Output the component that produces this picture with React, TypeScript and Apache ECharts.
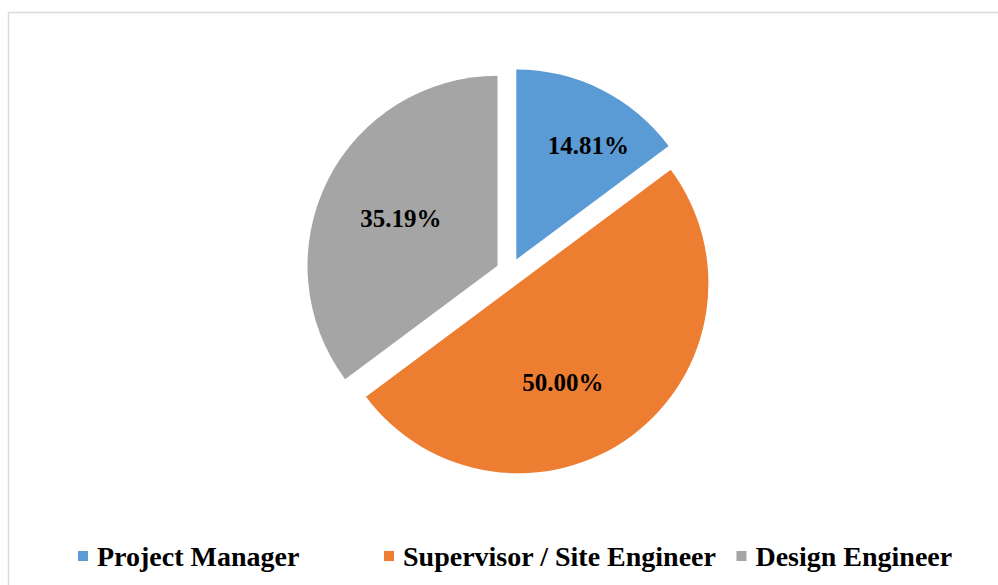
import React, { useEffect, useRef } from "react";
import * as echarts from "echarts";

const categories = ["Project Manager", "Supervisor / Site Engineer", "Design Engineer"];
const values = [14.81, 50.0, 35.19];
const colors = ["#5B9BD5", "#ED7D31", "#A5A5A5"];
const labelShift = [
  [28, -26],
  [-14, 21],
  [-9, -3],
];

export default function App() {
  const ref = useRef<HTMLDivElement>(null);
  useEffect(() => {
    document.body.style.margin = "0";
    const chart = echarts.init(ref.current!, null, { renderer: "svg" });
    const serif = "'Liberation Serif', 'Times New Roman', serif";
    const legendBase = {
      top: 542,
      padding: 0,
      itemWidth: 10,
      itemHeight: 10,
      itemGap: 20,
      icon: "rect",
      selectedMode: false,
      textStyle: {
        fontFamily: serif,
        fontWeight: "bold",
        fontSize: 28,
        color: "#000000",
        padding: [0, 0, 0, 4],
      },
    };
    chart.setOption({
      animation: false,
      backgroundColor: "#ffffff",
      graphic: [
        {
          type: "rect",
          left: 6,
          top: 10,
          shape: { width: 1000, height: 600 },
          style: { fill: "none", stroke: "#d9d9d9", lineWidth: 1.5 },
          silent: true,
        },
      ],
      legend: [
        { ...legendBase, left: 78, data: [categories[0]] },
        { ...legendBase, left: 384, data: categories.slice(1) },
      ],
      series: [
        {
          type: "pie",
          center: [510, 272],
          radius: [0, 190],
          startAngle: 90,
          clockwise: true,
          selectedMode: "multiple",
          selectedOffset: 14,
          avoidLabelOverlap: false,
          emphasis: { disabled: true },
          select: { itemStyle: { borderWidth: 0 }, label: { show: true } },
          label: {
            show: true,
            position: "inside",
            fontFamily: serif,
            fontWeight: "bold",
            fontSize: 25,
            color: "#000000",
            formatter: (p: any) => Number(p.value).toFixed(2) + "%",
          },
          labelLayout: (p: any) => ({
            dx: labelShift[p.dataIndex][0],
            dy: labelShift[p.dataIndex][1],
          }),
          labelLine: { show: false },
          data: categories.map((c, i) => ({
            name: c,
            value: values[i],
            selected: true,
            itemStyle: { color: colors[i] },
          })),
        },
      ],
    });
    return () => chart.dispose();
  }, []);
  return <div ref={ref} style={{ width: 998, height: 585 }} />;
}
